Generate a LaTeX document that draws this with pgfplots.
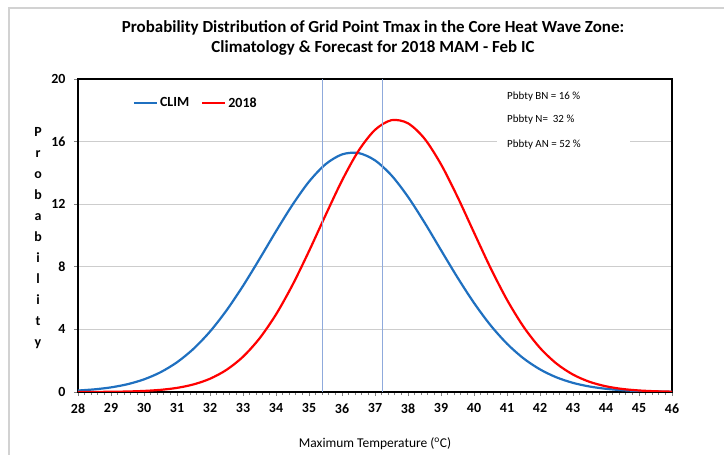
\documentclass[border=0pt]{standalone}
\usepackage{pgfplots}
\pgfplotsset{compat=1.18}
\usepackage{fontspec}
\setmainfont{Carlito}
\definecolor{climblue}{RGB}{31,112,192}
\definecolor{vline}{RGB}{143,170,220}
\definecolor{gridgray}{RGB}{205,205,205}
\begin{document}
\begin{tikzpicture}
\path[use as bounding box] (-78bp,-63bp) rectangle (646bp,392bp);
\draw[gray!35, line width=1.2bp] (-69bp,-63bp) -- (-69bp,384bp) -- (646bp,384bp);
\begin{axis}[
  at={(0,0)}, anchor=origin,
  scale only axis, width=594bp, height=313bp,
  xmin=28, xmax=46, ymin=0, ymax=20,
  xtick={28,29,...,46}, ytick={0,4,...,20},
  minor x tick num=4,
  tick align=outside, xtick pos=left, ytick pos=left,
  major tick length=4bp, minor tick length=3bp,
  tick style={gray, line width=0.8bp},
  axis line style={line width=2bp, black},
  ymajorgrids, grid style={gridgray, line width=1.2bp},
  /pgf/number format/assume math mode=true,
  ticklabel style={font=\fontsize{14}{15}\selectfont\bfseries},
  xticklabel style={yshift=-4bp},
  yticklabel style={xshift=-5bp},
  legend columns=2,
  legend style={at={(0.092,0.923)}, anchor=west, draw=none, fill=none,
    font=\fontsize{14}{15}\selectfont\bfseries, inner sep=0pt,
    /tikz/every even column/.append style={column sep=10bp}},
  legend cell align=left,
  legend image code/.code={\draw[#1] (0bp,0bp) -- (23bp,0bp);},
]
\fill[white] (axis cs:40.7,15.1) rectangle (axis cs:44.73,19.5);
\addplot[climblue, line width=2.2bp, smooth] coordinates {
(28,0.094) (28.5,0.170) (29,0.296) (29.5,0.498) (30,0.807) (30.5,1.261)
(31,1.900) (31.5,2.759) (32,3.862) (32.5,5.212) (33,6.778) (33.5,8.497)
(34,10.27) (34.5,11.96) (35,13.44) (35.5,14.55) (36,15.18)
(36.5,15.27) (37,14.80) (37.5,13.84) (38,12.47) (38.5,10.83) (39,9.065)
(39.5,7.317) (40,5.692) (40.5,4.267) (41,3.086) (41.5,2.149) (42,1.445)
(42.5,0.935) (43,0.583) (43.5,0.351) (44,0.204) (44.5,0.114) (45,0.061)
(45.5,0.032) (46,0.016)};
\addlegendentry{CLIM}
\addplot[red, line width=2.2bp, smooth] coordinates {
(28,0.003) (28.5,0.006) (29,0.014) (29.5,0.032) (30,0.068) (30.5,0.137)
(31,0.263) (31.5,0.484) (32,0.847) (32.5,1.415) (33,2.253) (33.5,3.423)
(34,4.955) (34.5,6.838) (35,9.00) (35.5,11.29) (36,13.51) (36.5,15.41)
(37,16.75) (37.5,17.37) (38,17.17) (38.5,16.19) (39,14.55)
(39.5,12.47) (40,10.19) (40.5,7.934) (41,5.892) (41.5,4.172) (42,2.817)
(42.5,1.814) (43,1.113) (43.5,0.651) (44,0.363) (44.5,0.193) (45,0.098)
(45.5,0.047) (46,0.022)};
\addlegendentry{2018}
\addplot[vline, line width=1bp, forget plot] coordinates {(35.41,0) (35.41,20)};
\addplot[vline, line width=1bp, forget plot] coordinates {(37.24,0) (37.24,20)};
\node[anchor=west, inner sep=0pt, font=\fontsize{11}{12}\selectfont] at (axis cs:41.0,18.85) {Pbbty BN = 16 \%};
\node[anchor=west, inner sep=0pt, font=\fontsize{11}{12}\selectfont] at (axis cs:41.0,17.38) {Pbbty N=\ \ 32 \%};
\node[anchor=west, inner sep=0pt, font=\fontsize{11}{12}\selectfont] at (axis cs:41.0,15.78) {Pbbty AN = 52 \%};
\end{axis}
\node[align=center, font=\fontsize{17}{20}\selectfont\bfseries] at (295bp,354bp)
  {Probability Distribution of Grid Point Tmax in the Core Heat Wave Zone:\\Climatology \& Forecast for 2018 MAM - Feb IC};
\node[font=\fontsize{13.5}{16}\selectfont] at (297bp,-52bp) {Maximum Temperature (\textsuperscript{o}C)};
\node[align=center, inner sep=0pt, font=\fontsize{14}{21}\selectfont\bfseries] at (-40bp,154bp)
  {P\\r\\o\\b\\a\\b\\i\\l\\i\\t\\y};
\end{tikzpicture}
\end{document}
